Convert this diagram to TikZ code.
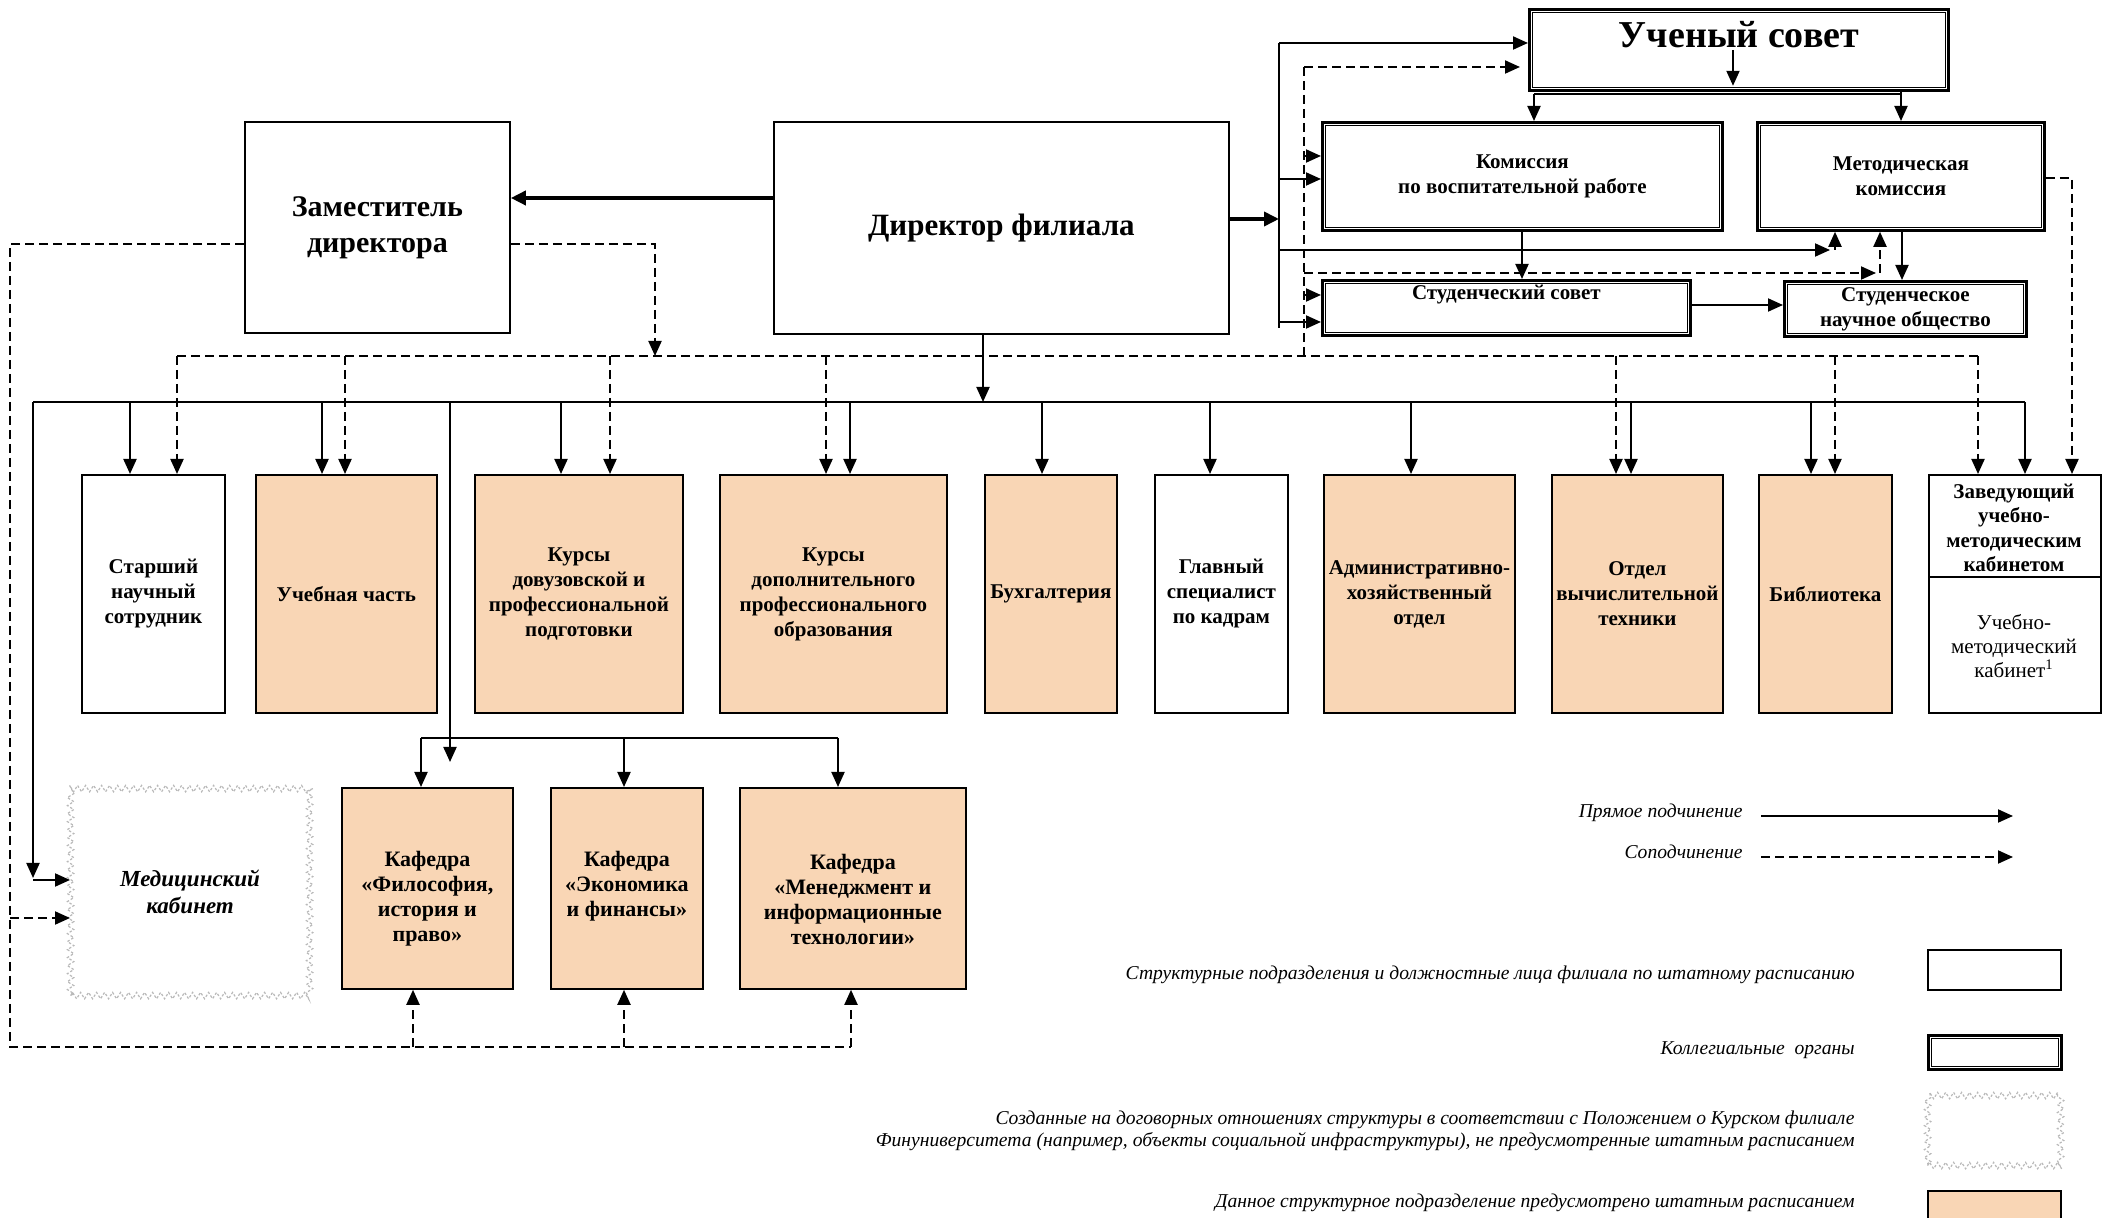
\documentclass[tikz,border=0pt]{standalone}
\usepackage{fontspec}
\setmainfont{Liberation Serif}
\usetikzlibrary{arrows.meta,decorations.pathmorphing}
\definecolor{peach}{RGB}{249,214,181}
\begin{document}
\begin{tikzpicture}[x=0.5pt,y=-0.5pt,
 rect/.style n args={4}{at={(#1,#2)},anchor=north west,minimum width={(#3-#1)*0.5pt},minimum height={(#4-#2)*0.5pt}},
 box/.style={draw,line width=0.9pt,fill=white,align=center,inner sep=1pt,font=\bfseries\fontsize{10.5}{12.5}\selectfont},
 org/.style={box,fill=peach},
 coll/.style={box,line width=1.4pt},
 inner/.style={line width=0.5pt},
 medst/.style={draw=gray!55,line width=0.6pt,dash pattern=on 1.2pt off 1pt,decorate,decoration={zigzag,segment length=4pt,amplitude=1.6pt},align=center,inner sep=1pt},
 ln/.style={line width=1pt},
 arr/.style={line width=1pt,-{Triangle[length=7.5pt,width=6.5pt]}},
 thickarr/.style={line width=1.8pt,-{Triangle[length=7.5pt,width=7pt]}},
 dln/.style={line width=1pt,dash pattern=on 4.5pt off 2.5pt},
 darr/.style={dln,-{Triangle[length=7.5pt,width=6.5pt]}},
 legt/.style={font=\itshape\fontsize{9.8}{11.3}\selectfont,align=right,inner sep=0pt},
 kaf/.style={org,font=\bfseries\fontsize{11}{12.5}\selectfont,text depth=14pt}
]
\fill[white] (0,0) rectangle (2111,1218);
\useasboundingbox (0,0) rectangle (2111,1218);

% ---------- top boxes ----------
\node[coll,rect={1528}{8}{1947}{89}] (uch) {};
\node[font=\bfseries\fontsize{19}{22}\selectfont,inner sep=0pt] (uchT) at (1739,35) {Ученый совет};
\node[coll,rect={1321}{121}{1721}{229}] (kvr) {Комиссия\\по воспитательной работе};
\node[coll,rect={1756}{121}{2043}{229}] (mk) {Методическая\\комиссия};
\node[coll,rect={1321}{279}{1689}{334},label={[anchor=north,inner sep=3pt,font=\bfseries\fontsize{10.5}{12.5}\selectfont]north:Студенческий совет}] (ss) {};
\node[coll,rect={1783}{280}{2025}{335},inner sep=0pt] (sno) {Студенческое\\научное общество};

\node[box,rect={244}{121}{509}{332},font=\bfseries\fontsize{15}{18}\selectfont] (zam) {Заместитель\\директора};
\node[box,rect={773}{121}{1228}{333},font=\bfseries\fontsize{15.5}{18}\selectfont] (dir) {Директор филиала};

% ---------- middle row ----------
\node[box,rect={81}{474}{224}{712}] (ssotr) {Старший\\научный\\сотрудник};
\node[org,rect={255}{474}{436}{712}] (uchch) {Учебная часть};
\node[org,rect={474}{474}{682}{712}] (kdov) {Курсы\\довузовской и\\профессиональной\\подготовки};
\node[org,rect={719}{474}{946}{712}] (kdop) {Курсы\\дополнительного\\профессионального\\образования};
\node[org,rect={984}{474}{1116}{712}] (buh) {Бухгалтерия};
\node[box,rect={1154}{474}{1287}{712}] (glav) {Главный\\специалист\\по кадрам};
\node[org,rect={1323}{474}{1514}{712}] (ahch) {Административно-\\хозяйственный\\отдел};
\node[org,rect={1551}{474}{1722}{712}] (ovt) {Отдел\\вычислительной\\техники};
\node[org,rect={1758}{474}{1891}{712}] (bib) {Библиотека};
\node[box,rect={1928}{474}{2100}{712}] (zav) {};
\draw[line width=0.9pt] (zav.west |- 0,577) -- (zav.east |- 0,577);
\node[font=\bfseries\fontsize{10.5}{12.2}\selectfont,align=center,inner sep=0pt] (zavT) at (2014,528) {Заведующий\\учебно-\\методическим\\кабинетом};
\node[font=\fontsize{10.5}{12}\selectfont,align=center,inner sep=0pt] (zavB) at (2014,646) {Учебно-\\методический\\кабинет\textsuperscript{1}};

% ---------- bottom row ----------
\node[medst,rect={70}{788}{309}{995},font=\bfseries\itshape\fontsize{11.5}{13.5}\selectfont] (med) {Медицинский\\кабинет};
\node[org,rect={341}{787}{512}{988},font=\bfseries\fontsize{11}{12.5}\selectfont] (kf1) {};
\node[org,rect={550}{787}{702}{988},font=\bfseries\fontsize{11}{12.5}\selectfont] (kf2) {};
\node[org,rect={739}{787}{965}{988},font=\bfseries\fontsize{11}{12.5}\selectfont] (kf3) {};
\node[font=\bfseries\fontsize{11}{12.5}\selectfont,align=center,inner sep=0pt] (kf1T) at (kf1.center |- 0,899) {Кафедра\\«Философия,\\история и\\право»};
\node[font=\bfseries\fontsize{11}{12.5}\selectfont,align=center,inner sep=0pt] (kf2T) at (kf2.center |- 0,886) {Кафедра\\«Экономика\\и финансы»};
\node[font=\bfseries\fontsize{11}{12.5}\selectfont,align=center,inner sep=0pt] (kf3T) at (kf3.center |- 0,899) {Кафедра\\«Менеджмент и\\информационные\\технологии»};

% ---------- legend boxes ----------
\node[box,rect={1927}{949}{2060}{989}] (lg1) {};
\node[coll,rect={1927}{1034}{2060}{1068}] (lg2) {};
\node[medst,rect={1927}{1095}{2060}{1165}] (lg3) {};
\node[org,rect={1927}{1190}{2060}{1240}] (lg4) {};

% inner lines of the collegial boxes
\foreach \n in {uch,kvr,mk,ss,sno,lg2}
  \draw[inner] ([shift={(2.2pt,-2.2pt)}]\n.north west) rectangle ([shift={(-2.2pt,2.2pt)}]\n.south east);

% ---------- top-right connectors ----------
\draw[thickarr] (dir.west |- 0,198) -- (zam.east |- 0,198);
\coordinate (vtop) at (1279,43);
\coordinate (vbot) at (1279,328);
\draw[ln] (vtop) -- (vbot);
\draw[thickarr] (dir.east |- 0,219) -- (vtop |- 0,219);
\draw[arr] (vtop) -- (vtop -| uch.west);
\draw[arr] (vtop |- 0,179) -- (kvr.west |- 0,179);
\draw[arr] (vtop |- 0,250) -- (1830,250);
\draw[arr] (1835,250) -- (1835,0 |- mk.south);
\draw[arr] (vtop |- 0,322) -- (ss.west |- 0,322);

\draw[arr] (1733,50) -- ([yshift=3pt]1733,0 |- uch.south);
\draw[ln] (1901,94) -- (1534,94);
\draw[arr] (1534,94) -- (1534,0 |- kvr.north);
\draw[arr] (1901,0 |- uch.south) -- (1901,0 |- mk.north);
\draw[arr] (1522,0 |- kvr.south) -- (1522,0 |- ss.north);
\draw[arr] (1902,0 |- mk.south) -- (1902,0 |- sno.north);
\draw[arr] (ss.east |- 0,305) -- (sno.west |- 0,305);

% dashed connectors top right
\coordinate (dbus) at (177,356);
\coordinate (dv) at (1304,67);
\draw[dln] (dv) -- (dv |- dbus);
\draw[darr,shorten >=4pt] (dv) -- (dv -| uch.west);
\draw[darr] (dv |- 0,156) -- (kvr.west |- 0,156);
\draw[darr] (dv |- 0,295) -- (ss.west |- 0,295);
\draw[darr] (dv |- 0,273) -- (1876,273);
\draw[darr] (1880,273) -- (1880,0 |- mk.south);
\draw[darr] (mk.east |- 0,178) -| (2072,0 |- zav.north);

% ---------- solid bus ----------
\coordinate (bus) at (33,402);
\coordinate (busR) at (2025,402);
\draw[arr] (983,0 |- dir.south) -- (983,0 |- bus);
\draw[ln] (bus) -- (busR);
\draw[arr] (busR) -- (busR |- zav.north);
\draw[arr] (bus) -- (33,878);
\draw[arr] (33,880) -- (med.west |- 0,880);
\foreach \xx/\nn in {130/ssotr,322/uchch,561/kdov,850/kdop,1042/buh,1210/glav,1411/ahch,1631/ovt,1811/bib}
  \draw[arr] (\xx,0 |- bus) -- (\xx,0 |- \nn.north);
\draw[arr] (450,0 |- bus) -- (450,762);
\coordinate (kb) at (421,738);
\draw[ln] (kb) -- (838,738);
\draw[arr] (kb) -- (kb |- kf1.north);
\draw[arr] (624,738) -- (624,0 |- kf2.north);
\draw[arr] (838,738) -- (838,0 |- kf3.north);

% ---------- dashed bus ----------
\draw[dln] (dbus) -- (1980,356);
\draw[darr] (zam.east |- 0,244) -| (655,0 |- dbus);
\foreach \xx/\nn in {177/ssotr,345/uchch,610/kdov,826/kdop,1616/ovt,1835/bib,1978/zav}
  \draw[darr] (\xx,0 |- dbus) -- (\xx,0 |- \nn.north);
\coordinate (dl) at (10,1047);
\draw[dln] (zam.west |- 0,244) -| (dl) -- (851,1047);
\draw[darr] (10,918) -- (med.west |- 0,918);
\draw[darr] (413,1047) -- (413,0 |- kf1.south);
\draw[darr] (624,1047) -- (624,0 |- kf2.south);
\draw[darr] (851,1047) -- (851,0 |- kf3.south);

% ---------- legend ----------
\node[legt,anchor=east] (l1) at (1743,813) {Прямое подчинение};
\coordinate (la1) at (1761,816);
\draw[arr] (la1) -- (2013,816);
\node[legt,anchor=east] (l2) at (1743,852) {Соподчинение};
\coordinate (la2) at (1761,857);
\draw[darr] (la2) -- (2013,857);

\node[legt,anchor=east] (lt1) at (1855,975) {Структурные подразделения и должностные лица филиала по штатному расписанию};
\node[legt,anchor=east] (lt2) at (1855,1050) {Коллегиальные\ \ органы};
\node[legt,anchor=east] (lt3) at (1855,1131) {Созданные на договорных отношениях структуры в соответствии с Положением о Курском филиале\\Финуниверситета (например, объекты социальной инфраструктуры), не предусмотренные штатным расписанием};
\node[legt,anchor=east] (lt4) at (1855,1203) {Данное структурное подразделение предусмотрено штатным расписанием};
\end{tikzpicture}
\end{document}
